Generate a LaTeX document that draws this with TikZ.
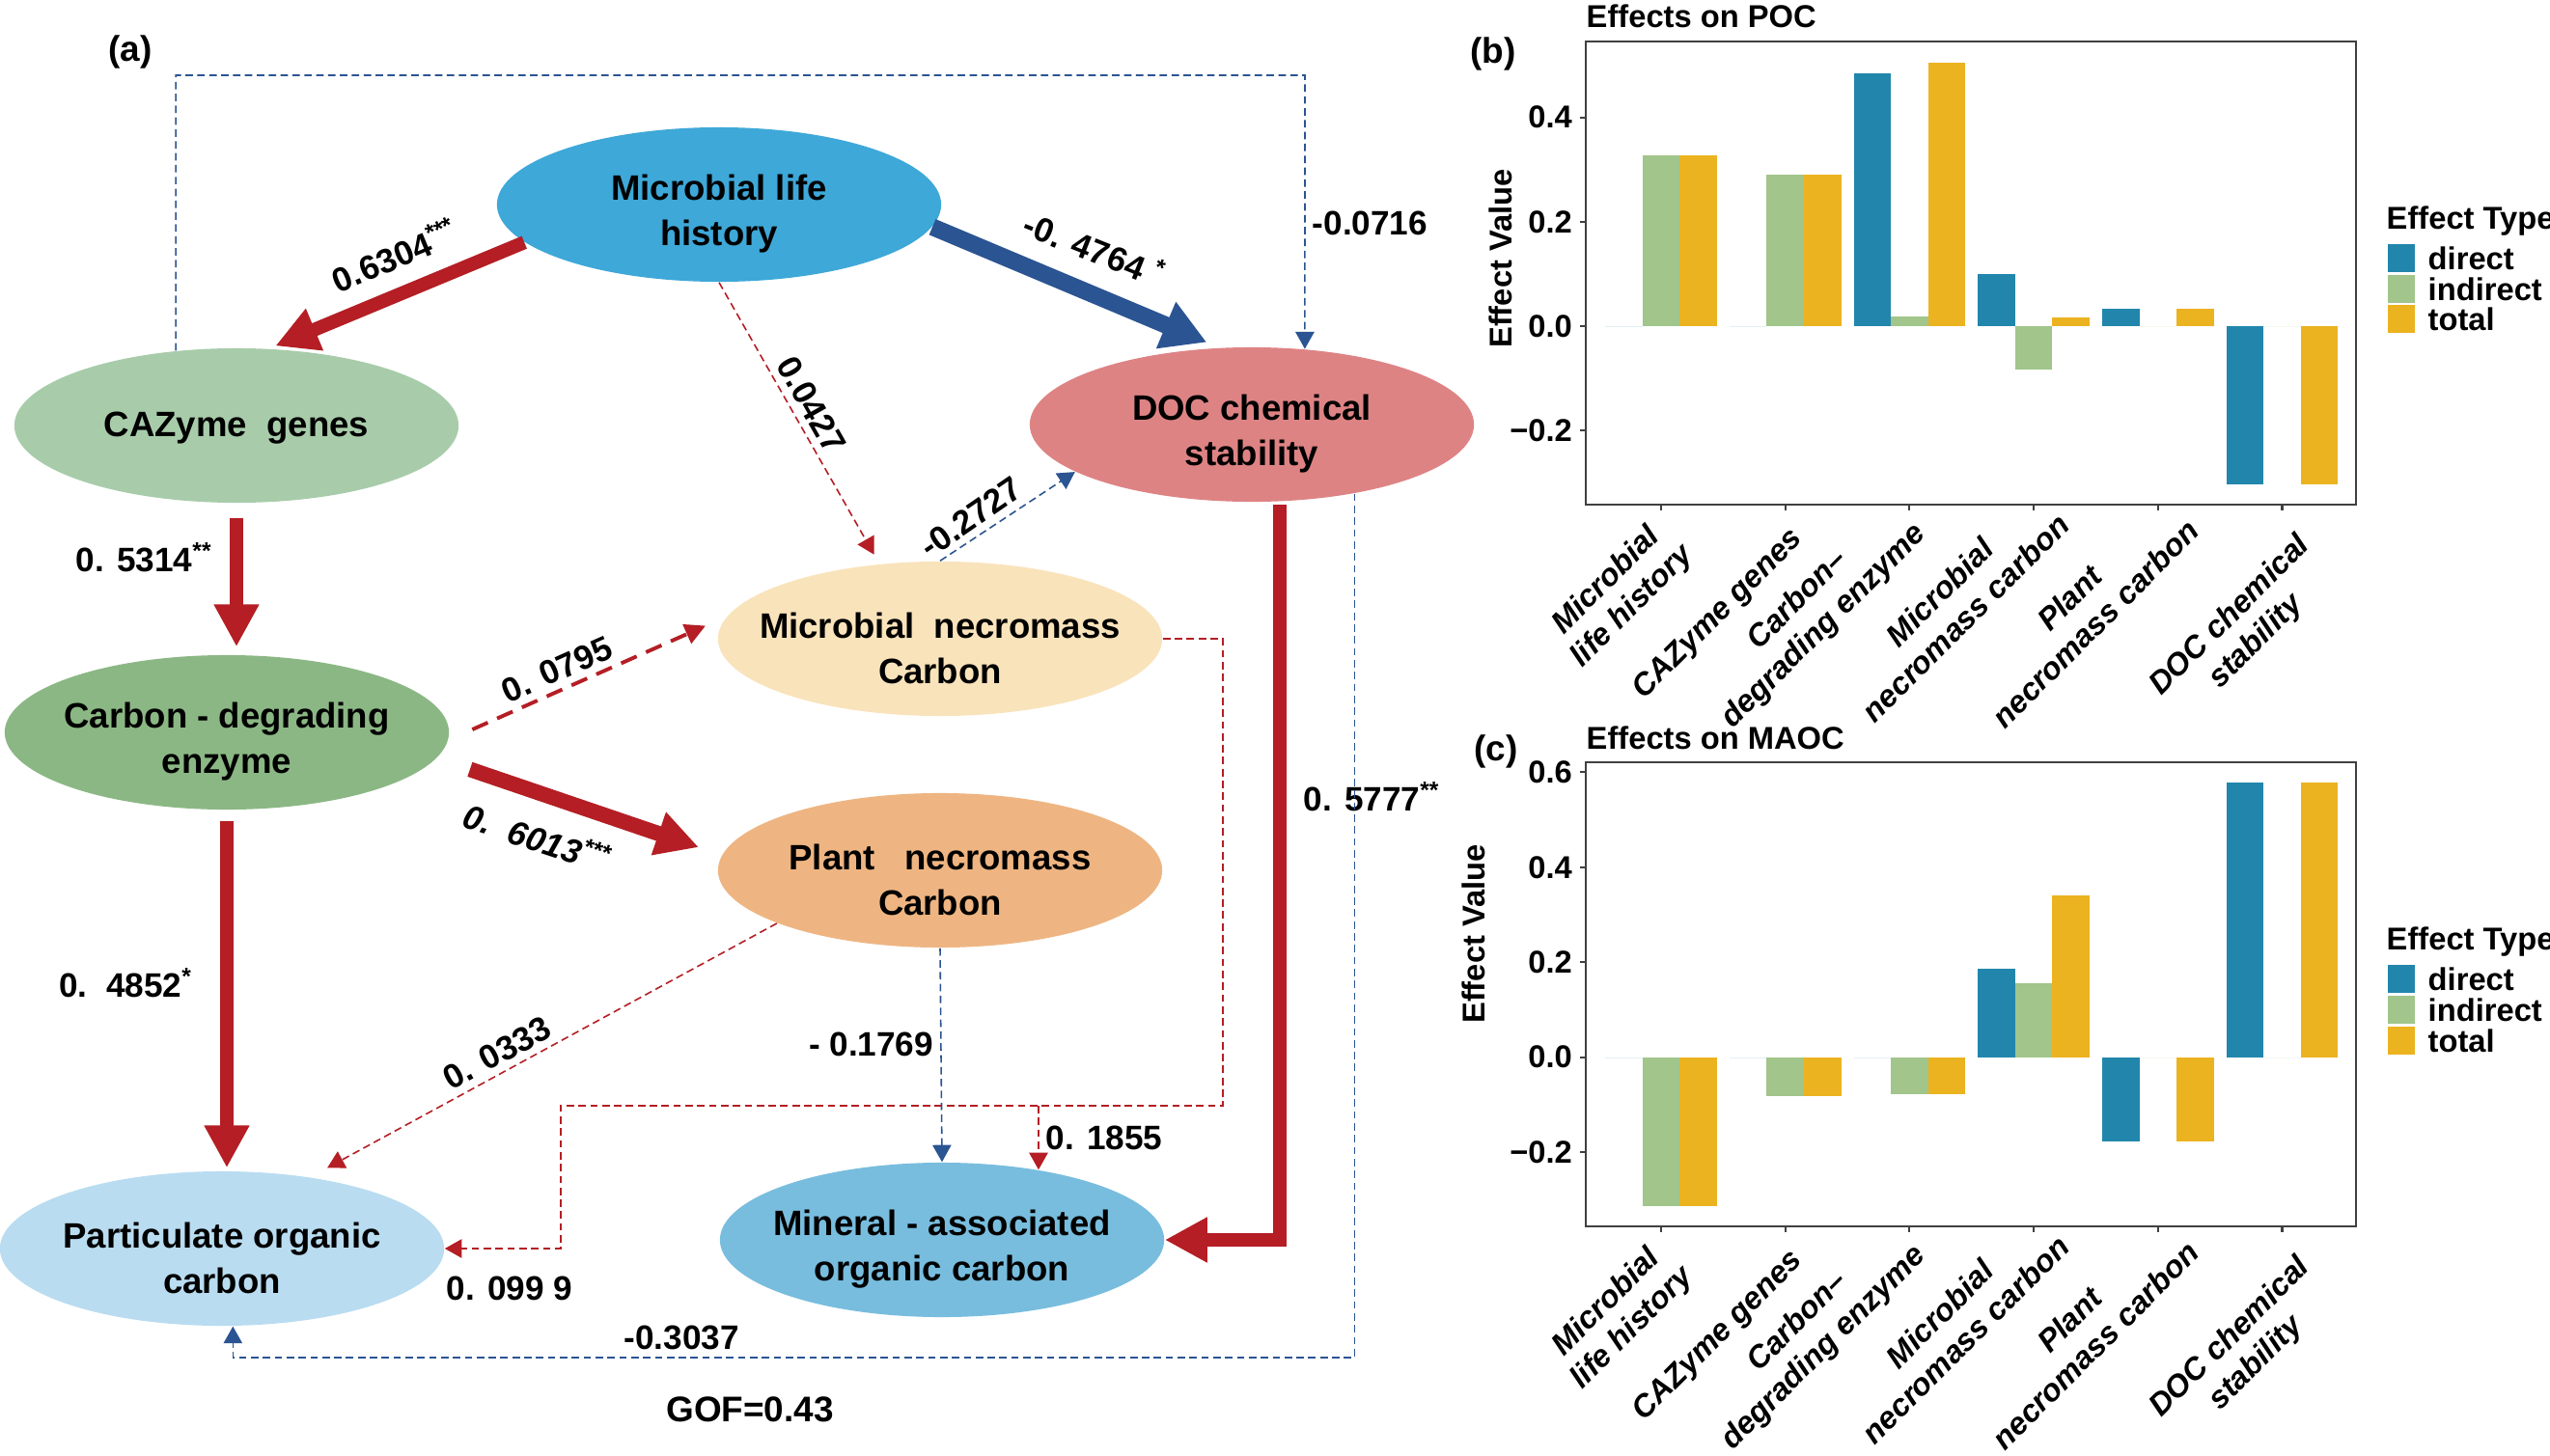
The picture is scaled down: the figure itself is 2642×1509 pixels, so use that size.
\documentclass[tikz,border=0pt]{standalone}
\usepackage{fontspec}
\setmainfont{Liberation Sans}
\usetikzlibrary{shapes.geometric,arrows.meta,positioning}
\definecolor{mlhblue}{RGB}{62,168,216}
\definecolor{cazgreen}{RGB}{168,204,170}
\definecolor{docred}{RGB}{222,131,132}
\definecolor{mnccream}{RGB}{249,227,187}
\definecolor{cdegreen}{RGB}{139,183,132}
\definecolor{pncorange}{RGB}{238,181,130}
\definecolor{pocblue}{RGB}{185,220,240}
\definecolor{maocblue}{RGB}{120,189,222}
\definecolor{pathred}{RGB}{180,30,36}
\definecolor{pathblue}{RGB}{43,84,146}
\definecolor{bardirect}{RGB}{34,134,172}
\definecolor{barindirect}{RGB}{161,197,138}
\definecolor{bartotal}{RGB}{235,179,32}
\tikzset{
	factor/.style={ellipse, fill=#1, minimum width=4.6cm, minimum height=1.6cm, inner sep=0pt},
	ftext/.style={align=center, inner sep=0pt, yshift=-2.8pt, font=\fontsize{10.4}{13.4}\selectfont\bfseries},
	coef/.style={inner sep=2pt, text=black, font=\fontsize{10}{12}\selectfont\bfseries},
	sig/.style={line width=4pt, -{Triangle[length=12.5pt,width=12.5pt]}},
	ns/.style={line width=0.45pt, dash pattern=on 2.2pt off 1.3pt, -{Triangle[length=5pt,width=5.5pt]}},
	chart/.style={font=\fontsize{9.3}{11}\selectfont\bfseries},
	xlab/.style={rotate=45, align=center, inner sep=0pt, font=\fontsize{9.2}{10.8}\selectfont\bfseries\itshape},
	frame/.style={draw=black!75, line width=0.6pt},
	plabel/.style={font=\fontsize{10.5}{12}\selectfont\bfseries},
}
\begin{document}
\begin{tikzpicture}[x=0.01cm, y=-0.01cm]
	\useasboundingbox (0,0) rectangle (2642,1509);
	\fill[white] (0,0) rectangle (2642,1509);
	% (a) path model
	\node[plabel] (la) at (135,54) {(a)};
	\node[factor=mlhblue, label={[ftext]center:{Microbial life\\history}}] (MLH) at (745,212) {};
	\node[factor=cazgreen, label={[ftext, yshift=2pt]center:{CAZyme\ \ genes}}] (CAZ) at (245,441) {};
	\node[factor=docred, label={[ftext]center:{DOC chemical\\stability}}] (DOC) at (1297,440) {};
	\node[factor=mnccream, label={[ftext]center:{Microbial\ \ necromass\\Carbon}}] (MNC) at (974,662) {};
	\node[factor=cdegreen, label={[ftext]center:{Carbon - degrading\\enzyme}}] (CDE) at (235,759) {};
	\node[factor=pncorange, label={[ftext]center:{Plant\ \ \ necromass\\Carbon}}] (PNC) at (974,902) {};
	\node[factor=pocblue, label={[ftext]center:{Particulate organic\\carbon}}] (POC) at (230,1294) {};
	\node[factor=maocblue, label={[ftext]center:{Mineral - associated\\organic carbon}}] (MAOC) at (976,1285) {};
	\coordinate (T) at (1352,78);
	\coordinate (R) at (1267,1146);
	\coordinate (J) at (1076,1146);
	\coordinate (L) at (581,1146);
	\coordinate (B) at (1403,1407);
	\draw[sig, pathred, shorten >=2pt] (MLH.191) -- node[coef, pos=0.45, rotate=22.7, anchor=south, inner sep=5pt]{0.6304\textsuperscript{***}} (CAZ.67);
	\draw[sig, pathblue, line width=5pt, -{Triangle[length=13pt,width=14pt]}, shorten >=0.14cm] (MLH.-6) -- node[coef, pos=0.51, rotate=-21.7, anchor=south, inner sep=6pt]{-0. 4764 \textsuperscript{*}} (DOC.113);
	\draw[ns, pathblue] (CAZ.129) |- (T) -- node[coef, right, pos=0.54]{-0.0716} (DOC.55);
	\draw[ns, pathred, shorten >=0.11cm] (MLH.south) -- node[coef, pos=0.47, rotate=-60.5, anchor=south]{0.0427} (MNC.129);
	\draw[ns, pathblue] (MNC.north) -- node[coef, pos=0.31, rotate=34.5, anchor=south]{-0.2727} (DOC.195);
	\draw[sig, pathred, shorten <=0.15cm, shorten >=0.08cm] (CAZ.south) -- node[coef, left=3pt, pos=0.36]{0. 5314\textsuperscript{**}} (CAZ.south |- CDE.north);
	\draw[pathred, line width=1.1pt, dash pattern=on 5pt off 3pt, -{Triangle[length=6pt,width=6pt]}, shorten <=0.27cm, shorten >=0.24cm] (CDE.-2) -- node[coef, pos=0.42, rotate=24, anchor=south]{0. 0795} (MNC.174);
	\draw[sig, pathred, line width=4.5pt, shorten <=0.36cm, shorten >=0.25cm] (CDE.-7) -- node[coef, pos=0.4, rotate=-18.4, anchor=north, inner sep=6pt, font=\fontsize{10}{12}\selectfont\bfseries\itshape]{0.\ \ 6013\textsuperscript{***}} (PNC.176);
	\draw[sig, pathred, shorten <=0.11cm, shorten >=0.03cm] (CDE.south) -- node[coef, left=6pt, pos=0.48]{0.\ \ 4852\textsuperscript{*}} (CDE.south |- POC.north);
	\draw[ns, pathred, shorten >=0.2cm] (PNC.198) -- node[coef, pos=0.58, rotate=28.4, anchor=south]{0. 0333} (POC.39);
	\draw[ns, pathblue] (PNC.south) -- node[coef, left, pos=0.45]{-\ 0.1769} (MAOC.north);
	\draw[ns, pathred] (MNC.east) -| (R) -- (L) |- node[coef, pos=0.72, below=6pt]{0. 099 9} (POC.east);
	\draw[ns, pathred] (J) -- node[coef, right, pos=0.5]{0. 1855} (J |- MAOC.36);
	\draw[sig, pathred, shorten <=0.03cm] (DOC.-70) |- node[coef, right=3pt, pos=0.2]{0. 5777\textsuperscript{**}} (MAOC.east);
	\draw[ns, pathblue] (DOC.-34) -- (DOC.-34 |- B) -| node[coef, above, pos=0.3]{-0.3037} (POC.-82);
	\node[plabel] (gof) at (777,1461) {GOF=0.43};
	% (b) effects on POC
	\node[chart, anchor=west, inner sep=0pt] (tb) at (1643,17) {Effects on POC};
	\node[plabel] (lb) at (1547,56) {(b)};
	\foreach \i/\d/\n/\s in {1/0/0.3265/0.3265, 2/0/0.29/0.29, 3/0.4852/0.0193/0.5045, 4/0.0999/-0.083/0.0169, 5/0.0333/0/0.0333, 6/-0.3037/0/-0.3037}{
		\pgfmathsetmacro\c{1721+(\i-1)*128.7}
		\fill[bardirect] ({\c-57.9},338) rectangle ({\c-19.3},{338-(\d)*541});
		\fill[barindirect] ({\c-19.3},338) rectangle ({\c+19.3},{338-(\n)*541});
		\fill[bartotal] ({\c+19.3},338) rectangle ({\c+57.9},{338-(\s)*541});
	}
	\draw[frame] (1643,43) rectangle (2441,523);
	\foreach \v/\t [count=\k] in {0.4/0.4, 0.2/0.2, 0/0.0, -0.2/−0.2}
		\draw[frame] (1643,{338-(\v)*541}) -- ++(-6,0) node[chart, left, inner sep=2pt] (yb\k) {\t};
	\foreach \i/\an/\dx/\dy/\t in {1/south east/43/62/{Microbial\\life history\strut}, 2/south east/28/45/{CAZyme genes\strut}, 3/south east/27/40/{Carbon–\\degrading enzyme\strut}, 4/south east/48/32/{Microbial\\necromass carbon\strut}, 5/south east/54/38/{Plant\\necromass carbon\strut}, 6/north east/11/24/{\strut DOC chemical\\stability}}{
		\draw[frame] ({1721+(\i-1)*128.7},523) -- ++(0,6);
		\node[xlab, anchor=\an] (xb\i) at ({1721+(\i-1)*128.7+\dx},523+\dy) {\t};
	}
	\node[chart, rotate=90] (vb) at (1555,268) {Effect Value};
	\node[chart, anchor=west, inner sep=0pt] (kb) at (2472,229) {Effect Type};
	\foreach \k/\col/\y in {direct/bardirect/253, indirect/barindirect/285, total/bartotal/316}{
		\fill[\col] (2474,\y) rectangle ++(28,29);
		\node[chart, anchor=west, inner sep=0pt] (kb\k) at (2515,\y+14.5) {\k};
	}
	% (c) effects on MAOC
	\node[chart, anchor=west, inner sep=0pt] (tc) at (1643,765) {Effects on MAOC};
	\node[plabel] (lc) at (1550,779) {(c)};
	\foreach \i/\d/\n/\s in {1/0/-0.314/-0.314, 2/0/-0.083/-0.083, 3/0/-0.079/-0.079, 4/0.1855/0.156/0.3415, 5/-0.1769/0/-0.1769, 6/0.5777/0/0.5777}{
		\pgfmathsetmacro\c{1721+(\i-1)*128.7}
		\fill[bardirect] ({\c-57.9},1095.6) rectangle ({\c-19.3},{1095.6-(\d)*492});
		\fill[barindirect] ({\c-19.3},1095.6) rectangle ({\c+19.3},{1095.6-(\n)*492});
		\fill[bartotal] ({\c+19.3},1095.6) rectangle ({\c+57.9},{1095.6-(\s)*492});
	}
	\draw[frame] (1643,790) rectangle (2441,1271);
	\foreach \v/\t [count=\k] in {0.6/0.6, 0.4/0.4, 0.2/0.2, 0/0.0, -0.2/−0.2}
		\draw[frame] (1643,{1095.6-(\v)*492}) -- ++(-6,0) node[chart, left, inner sep=2pt] (yc\k) {\t};
	\foreach \i/\an/\dx/\dy/\t in {1/south east/43/62/{Microbial\\life history\strut}, 2/south east/28/45/{CAZyme genes\strut}, 3/south east/27/40/{Carbon–\\degrading enzyme\strut}, 4/south east/48/32/{Microbial\\necromass carbon\strut}, 5/south east/54/38/{Plant\\necromass carbon\strut}, 6/north east/11/24/{\strut DOC chemical\\stability}}{
		\draw[frame] ({1721+(\i-1)*128.7},1271) -- ++(0,6);
		\node[xlab, anchor=\an] (xc\i) at ({1721+(\i-1)*128.7+\dx},1271+\dy) {\t};
	}
	\node[chart, rotate=90] (vc) at (1527,968) {Effect Value};
	\node[chart, anchor=west, inner sep=0pt] (kc) at (2472,976) {Effect Type};
	\foreach \k/\col/\y in {direct/bardirect/1000, indirect/barindirect/1032, total/bartotal/1064}{
		\fill[\col] (2474,\y) rectangle ++(28,29);
		\node[chart, anchor=west, inner sep=0pt] (kc\k) at (2515,\y+14.5) {\k};
	}
\end{tikzpicture}
\end{document}
